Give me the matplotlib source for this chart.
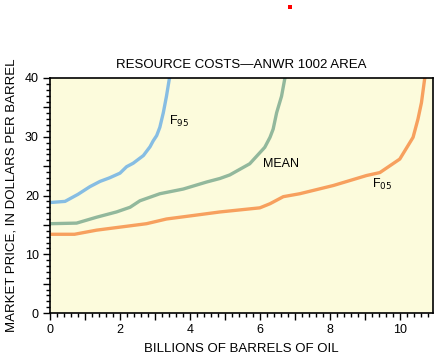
import numpy as np
import matplotlib
matplotlib.use('Agg')
import matplotlib.pyplot as plt
from matplotlib.ticker import MultipleLocator
from matplotlib.patches import Rectangle

plt.rcParams['font.family'] = ['Liberation Sans', 'DejaVu Sans']

# ── Data ──────────────────────────────────────────────────────────────────────
f95_x = [0.0, 0.43, 0.8, 1.14, 1.43, 1.7, 2.0, 2.19, 2.38, 2.67, 2.86, 2.95, 3.05, 3.14, 3.24, 3.33, 3.41, 3.42]
f95_y = [18.8, 19.0, 20.2, 21.5, 22.4, 23.0, 23.8, 24.9, 25.5, 26.8, 28.3, 29.3, 30.2, 31.6, 34.1, 36.9, 39.8, 40.0]

mean_x = [0.0, 0.76, 1.33, 1.9, 2.29, 2.57, 3.14, 3.81, 4.48, 4.86, 5.14, 5.71, 6.14, 6.29, 6.38, 6.48, 6.62, 6.71, 6.72]
mean_y = [15.2, 15.3, 16.3, 17.2, 18.0, 19.1, 20.3, 21.1, 22.3, 22.9, 23.5, 25.4, 28.2, 29.9, 31.3, 34.1, 36.9, 39.8, 40.0]

f05_x = [0.0, 0.7, 1.33, 2.76, 3.33, 4.1, 4.86, 6.0, 6.29, 6.67, 7.14, 8.1, 9.05, 9.43, 10.0, 10.38, 10.52, 10.62, 10.71, 10.72]
f05_y = [13.4, 13.4, 14.1, 15.2, 16.0, 16.6, 17.2, 17.9, 18.6, 19.8, 20.3, 21.7, 23.4, 23.9, 26.2, 29.9, 33.0, 35.8, 39.8, 40.0]

x_ticks = [0, 2, 4, 6, 8, 10]
y_ticks = [0, 10, 20, 30, 40]

# ── Figure ────────────────────────────────────────────────────────────────────
fig = plt.figure(figsize=(4.41, 3.56), dpi=100)
fig.patch.set_facecolor('white')
ax = fig.add_axes([50/441, 43/356, 383/441, 235/356])
ax.set_facecolor('#fcfbdc')

ax.plot(f95_x, f95_y, color='#86bde3', lw=2.4, solid_joinstyle='round')
ax.plot(mean_x, mean_y, color='#92b89c', lw=2.4, solid_joinstyle='round')
ax.plot(f05_x, f05_y, color='#f7a05e', lw=2.4, solid_joinstyle='round')

ax.text(3.4, 31.3, r'F$_{95}$', fontsize=9, ha='left', va='bottom')
ax.text(6.1, 24.3, 'MEAN', fontsize=9, ha='left', va='bottom')
ax.text(9.2, 20.6, r'F$_{05}$', fontsize=9, ha='left', va='bottom')

ax.set_xlim(0, 10.95)
ax.set_ylim(0, 40)
ax.xaxis.set_major_locator(MultipleLocator(1))
ax.xaxis.set_minor_locator(MultipleLocator(0.2))
ax.yaxis.set_major_locator(MultipleLocator(5))
ax.yaxis.set_minor_locator(MultipleLocator(1))
ax.set_xticklabels([str(int(t)) if t in x_ticks else '' for t in ax.get_xticks()])
ax.set_yticklabels([str(int(t)) if t in y_ticks else '' for t in ax.get_yticks()])
ax.tick_params(which='major', direction='out', length=5, width=1, labelsize=9, pad=3)
ax.tick_params(which='minor', direction='out', length=3, width=1)
for s in ax.spines.values():
    s.set_linewidth(1.2)

ax.set_xlabel('BILLIONS OF BARRELS OF OIL', fontsize=9.5, labelpad=5)
ax.set_ylabel('MARKET PRICE, IN DOLLARS PER BARREL', fontsize=9.5, labelpad=5)
ax.set_title('RESOURCE COSTS\u2014ANWR 1002 AREA', fontsize=9.5, pad=7)

# small red mark at the top of the original image
fig.patches.append(Rectangle((288/441, 1 - 9/356), 4/441, 4/356,
                             transform=fig.transFigure, color='red', lw=0))

fig.savefig('out.png', dpi=100, facecolor='white')
